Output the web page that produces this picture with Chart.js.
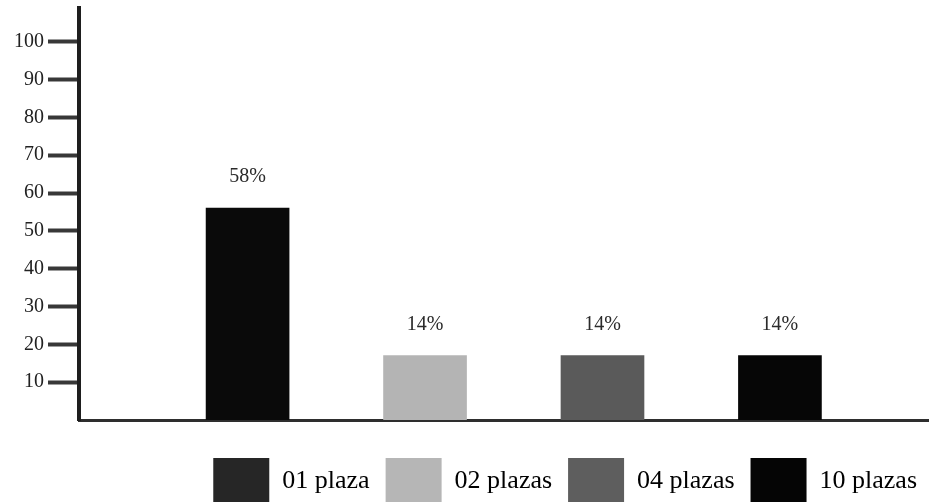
<!DOCTYPE html>
<html>
<head>
<meta charset="utf-8">
<script src="https://cdn.jsdelivr.net/npm/chart.js@4.4.0/dist/chart.umd.min.js"></script>
<style>
    html, body { margin: 0; padding: 0; background: #fff; }
</style>
</head>
<body>
<canvas id="chartPlazas" width="929" height="502"></canvas>
<script>
// data
const categories = ['01 plaza', '02 plazas', '04 plazas', '10 plazas'];
const barHeights = [56, 17, 17, 17];          // heights as drawn against the axis
const pctLabels = ['58%', '14%', '14%', '14%'];
const yTicks = [10, 20, 30, 40, 50, 60, 70, 80, 90, 100];

const barColors = ['#0a0a0a', '#b4b4b4', '#5a5a5a', '#060606'];
const swatchColors = ['#262626', '#b6b6b6', '#5e5e5e', '#050505'];

const serif = "'Liberation Serif', 'DejaVu Serif', serif";

// percent text above each bar
const pctPlugin = {
    id: 'pctPlugin',
    afterDatasetsDraw(chart) {
        let ctx = chart.ctx;
        let meta = chart.getDatasetMeta(0);
        ctx.save();
        ctx.font = '20px ' + serif;
        ctx.fillStyle = '#2a2a2a';
        ctx.textAlign = 'center';
        ctx.textBaseline = 'middle';
        meta.data.forEach(function (bar, i) {
            ctx.fillText(pctLabels[i], bar.x, bar.y - 31);
        });
        ctx.restore();
    }
};

let chartPlazas = new Chart(document.getElementById('chartPlazas'), {
    type: 'bar',
    data: {
        datasets: [{
            label: 'Plazas',
            data: barHeights.map(function (v, i) { return { x: i + 1, y: v }; }),
            backgroundColor: barColors,
            borderWidth: 0,
            barThickness: 83
        }]
    },
    options: {
        responsive: false,
        animation: false,
        layout: { padding: { top: 8, right: -4, left: 0, bottom: -12 } },
        scales: {
            x: {
                type: 'linear',
                offset: false,
                min: 0.05,
                max: 4.84,
                grid: { display: false },
                ticks: { display: false },
                border: { display: true, color: '#2e2e2e', width: 3 },
                afterFit: function (scale) { scale.height = 22; }
            },
            y: {
                min: 0,
                max: 108.9,
                afterBuildTicks: function (scale) {
                    scale.ticks = yTicks.map(function (v) { return { value: v }; });
                },
                afterFit: function (scale) {
                    scale.width = 79;
                    scale.paddingTop = 0;
                    scale.paddingBottom = 0;
                },
                grid: {
                    drawOnChartArea: false,
                    drawTicks: true,
                    tickLength: 31,
                    tickWidth: 4,
                    tickColor: '#383838'
                },
                border: { display: true, color: '#1e1e1e', width: 4 },
                ticks: {
                    color: '#222',
                    padding: 4,
                    font: { family: serif, size: 20 }
                }
            }
        },
        plugins: {
            tooltip: { enabled: false },
            legend: {
                position: 'bottom',
                align: 'end',
                onClick: function () {},
                labels: {
                    boxWidth: 56,
                    boxHeight: 46,
                    padding: 16,
                    color: '#1a1a1a',
                    font: { family: serif, size: 26 },
                    generateLabels: function () {
                        return categories.map(function (c, i) {
                            return {
                                text: c,
                                fillStyle: swatchColors[i],
                                strokeStyle: swatchColors[i],
                                lineWidth: 0,
                                index: i
                            };
                        });
                    }
                }
            }
        }
    },
    plugins: [pctPlugin]
});
</script>
</body>
</html>
